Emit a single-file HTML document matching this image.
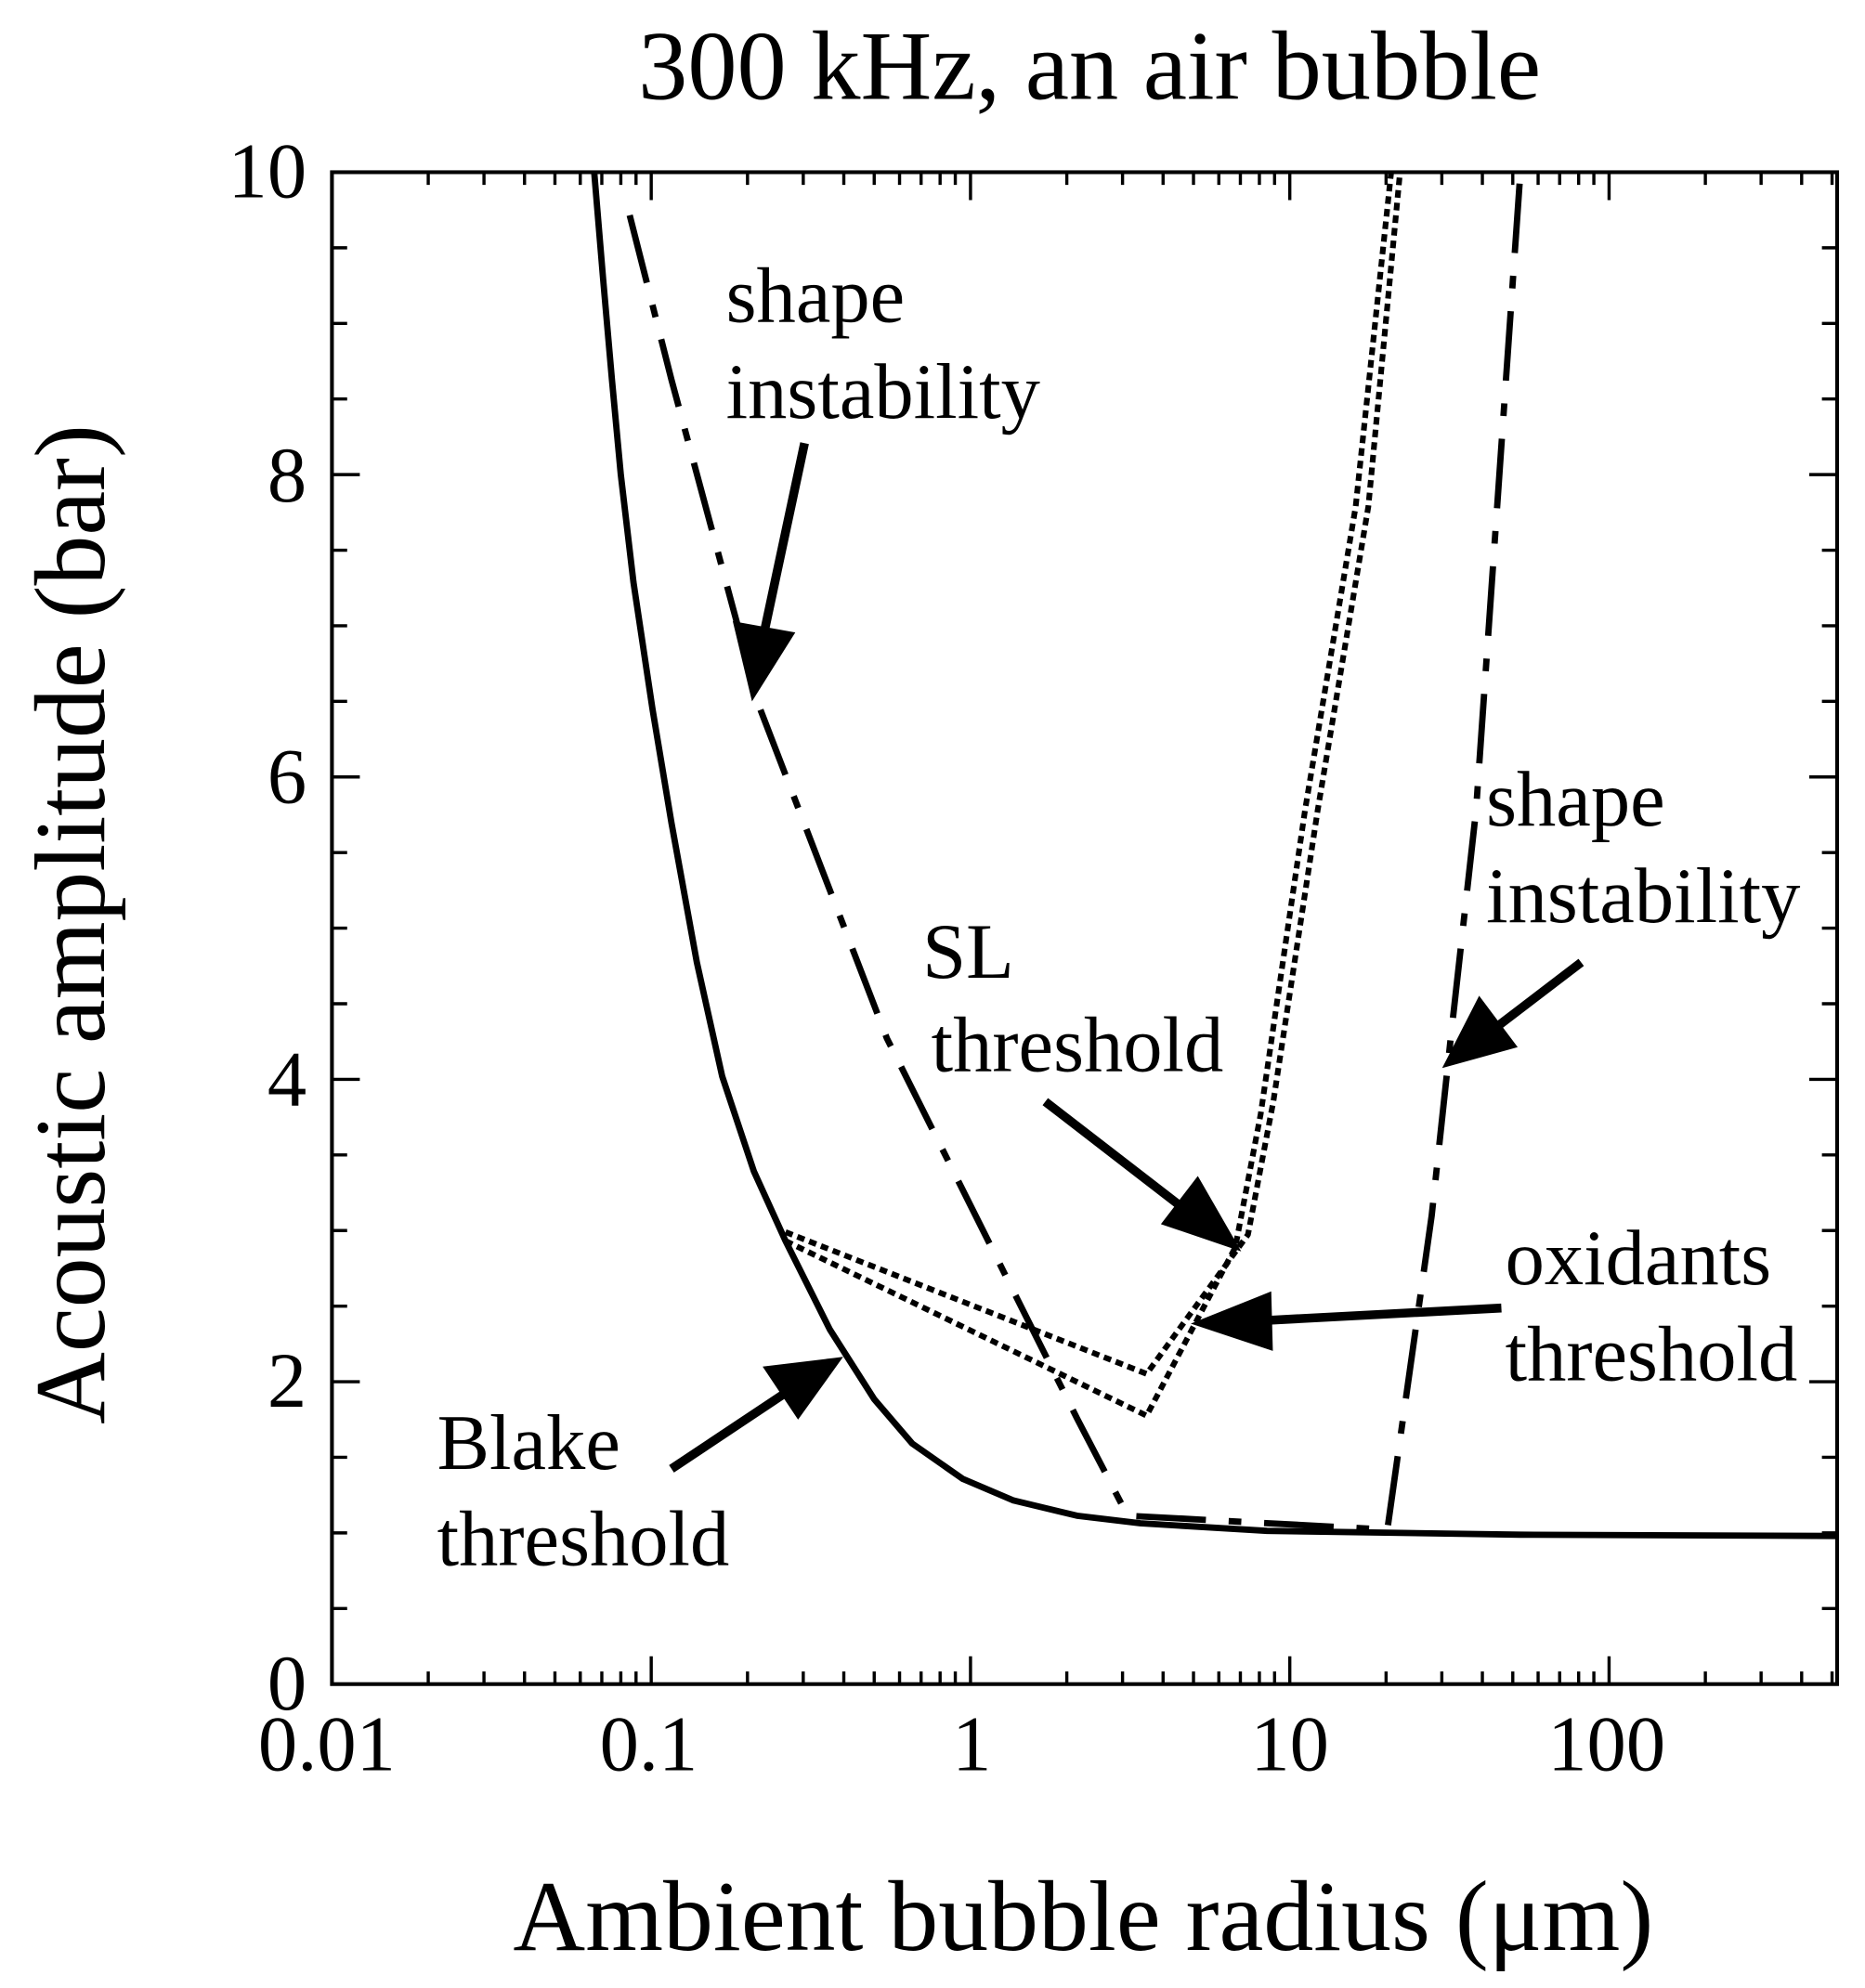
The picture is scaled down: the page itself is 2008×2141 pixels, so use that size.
<!DOCTYPE html>
<html><head><meta charset="utf-8"><style>html,body{margin:0;padding:0;background:#fff}svg{display:block}</style></head>
<body>
<svg xmlns="http://www.w3.org/2000/svg" width="2008" height="2141" viewBox="0 0 1472 1570" preserveAspectRatio="none" font-family="Liberation Serif, serif">
<rect width="1472" height="1570" fill="#fff"/>
<text x="860" y="78" font-size="78" text-anchor="middle">300 kHz, an air bubble</text>
<rect x="262" y="136" width="1188" height="1194" fill="none" stroke="#000" stroke-width="3"/>
<g fill="none" stroke="#000" stroke-width="2.5">
<path d="M262,1330v-22M338,1330v-10M382,1330v-10M414,1330v-10M438,1330v-10M458,1330v-10M475,1330v-10M490,1330v-10M502,1330v-10M514,1330v-22M590,1330v-10M634,1330v-10M666,1330v-10M690,1330v-10M710,1330v-10M727,1330v-10M742,1330v-10M754,1330v-10M766,1330v-22M842,1330v-10M886,1330v-10M918,1330v-10M942,1330v-10M962,1330v-10M979,1330v-10M994,1330v-10M1006,1330v-10M1018,1330v-22M1094,1330v-10M1138,1330v-10M1170,1330v-10M1194,1330v-10M1214,1330v-10M1231,1330v-10M1246,1330v-10M1258,1330v-10M1270,1330v-22M1346,1330v-10M1390,1330v-10M1422,1330v-10M1446,1330v-10"/>
<path d="M262,136v22M338,136v10M382,136v10M414,136v10M438,136v10M458,136v10M475,136v10M490,136v10M502,136v10M514,136v22M590,136v10M634,136v10M666,136v10M690,136v10M710,136v10M727,136v10M742,136v10M754,136v10M766,136v22M842,136v10M886,136v10M918,136v10M942,136v10M962,136v10M979,136v10M994,136v10M1006,136v10M1018,136v22M1094,136v10M1138,136v10M1170,136v10M1194,136v10M1214,136v10M1231,136v10M1246,136v10M1258,136v10M1270,136v22M1346,136v10M1390,136v10M1422,136v10M1446,136v10"/>
<path d="M262,1270.3h12M262,1210.6h12M262,1150.9h12M262,1091.2h22M262,1031.5h12M262,971.8h12M262,912.1h12M262,852.4h22M262,792.7h12M262,733h12M262,673.3h12M262,613.6h22M262,553.9h12M262,494.2h12M262,434.5h12M262,374.8h22M262,315.1h12M262,255.4h12M262,195.7h12"/>
<path d="M1450,1270.3h-12M1450,1210.6h-12M1450,1150.9h-12M1450,1091.2h-22M1450,1031.5h-12M1450,971.8h-12M1450,912.1h-12M1450,852.4h-22M1450,792.7h-12M1450,733h-12M1450,673.3h-12M1450,613.6h-22M1450,553.9h-12M1450,494.2h-12M1450,434.5h-12M1450,374.8h-22M1450,315.1h-12M1450,255.4h-12M1450,195.7h-12"/>
</g>
<g font-size="62" text-anchor="end">
<text x="242" y="156">10</text><text x="242" y="396">8</text><text x="242" y="634">6</text><text x="242" y="873">4</text><text x="242" y="1111">2</text><text x="242" y="1350">0</text>
</g>
<g font-size="62" text-anchor="middle">
<text x="258" y="1398">0.01</text><text x="512" y="1398">0.1</text><text x="767" y="1398">1</text><text x="1018" y="1398">10</text><text x="1268" y="1398">100</text>
</g>
<text x="855" y="1540" font-size="79" text-anchor="middle">Ambient bubble radius (μm)</text>
<text transform="translate(82,730) rotate(-90)" font-size="79" text-anchor="middle">Acoustic amplitude (bar)</text>
<g fill="none" stroke="#000" stroke-linejoin="round">
<polyline points="469,136 476,220 483,300 490,375 500,460 515,560 530,650 550,760 570,850 595,925 620,980 655,1050 690,1105 720,1140 760,1168 800,1185 850,1197 900,1203 1000,1209 1200,1212 1450,1213" stroke-width="5"/>
<path d="M497,170 L530,300 L600,560 L700,820 L790,1000 L850,1120 L890,1197 L1095,1208 L1130,960 L1145,820 L1165,640 L1200,136" stroke-width="5" stroke-dasharray="55,18,10,18"/>
<path d="M620,973 L905,1085 L985,975 L1005,870 L1040,640 L1080,400 L1105,136" stroke-width="4.5" stroke-dasharray="6,4"/>
<path d="M620,980 L905,1118 L975,985 L995,880 L1030,640 L1070,400 L1098,136" stroke-width="4.5" stroke-dasharray="6,4"/>
</g>
<g stroke="#000" stroke-width="7" fill="#000">
<line x1="635" y1="350" x2="603" y2="500"/><polygon points="595,545 583,495 622,502"/>
<line x1="530" y1="1160" x2="620" y2="1100"/><polygon points="658,1076 608,1082 630,1115"/>
<line x1="825" y1="870" x2="935" y2="955"/><polygon points="972,982 945,935 922,965"/>
<line x1="1185" y1="1033" x2="995" y2="1043"/><polygon points="950,1045 1000,1025 1001,1062"/>
<line x1="1248" y1="760" x2="1180" y2="812"/><polygon points="1145,838 1168,793 1192,825"/>
</g>
<g font-size="62">
<text x="573" y="254">shape</text><text x="573" y="330">instability</text>
<text x="1173" y="652">shape</text><text x="1173" y="728">instability</text>
<text x="728" y="772">SL</text><text x="735" y="846">threshold</text>
<text x="1188" y="1014">oxidants</text><text x="1188" y="1090">threshold</text>
<text x="345" y="1160">Blake</text><text x="345" y="1236">threshold</text>
</g>
</svg>
</body></html>
